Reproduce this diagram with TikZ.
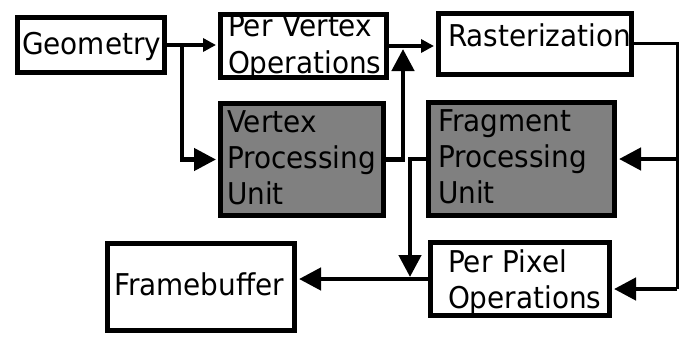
\documentclass[tikz,border=0pt]{standalone}
\usepackage{fontspec}
\setmainfont{DejaVu Sans}[FakeStretch=0.93]
\usetikzlibrary{arrows.meta}
\newcommand{\boxfont}{\fontsize{30}{36}\selectfont\hyphenpenalty10000\relax}
\begin{document}
\begin{tikzpicture}[
  x=1pt, y=-1pt,
  box/.style={draw, line width=5pt, inner sep=0pt, align=left, font=\boxfont, text height=22pt},
  unit/.style={box, fill=gray},
  link/.style={line width=4.5pt, shorten >=2pt},
  feed/.style={line width=3pt},
  small/.style={-{Triangle[length=13pt,width=13pt]}},
  big/.style={-{Triangle[length=22pt,width=22pt]}}
]
\useasboundingbox (0,0) rectangle (679,337);

\node[box, minimum width=147pt, minimum height=55pt, text width=138pt, text depth=3pt] (geo) at (91,45) {Geometry};
\node[box, minimum width=166pt, minimum height=63pt, text width=151pt, text depth=40pt] (pvo) at (303.5,46) {Per Vertex\\Operations};
\node[box, minimum width=193pt, minimum height=61pt, text width=174pt, text depth=16pt] (ras) at (535,44) {Rasterization};
\node[unit, minimum width=163pt, minimum height=112pt, text width=150pt, text depth=77pt] (vpu) at (302,159.5) {Vertex\\Processing\\Unit};
\node[unit, minimum width=186pt, minimum height=113pt, text width=167pt, text depth=78pt] (fpu) at (521.5,159) {Fragment\\Processing\\Unit};
\node[box, minimum width=187pt, minimum height=87pt, text width=174pt, text depth=6pt] (fb) at (201,287) {Framebuffer};
\node[box, minimum width=179pt, minimum height=73pt, text width=144pt, text depth=35pt] (ppo) at (520,279) {Per Pixel\\Operations};

\coordinate (split) at (182,45);
\coordinate (join) at (403,47);
\coordinate (drop) at (410,279);
\coordinate (feedtop) at (677,44);
\coordinate (feedbot) at (677,289);

\draw[link, small] (geo.east) -- (geo.east -| pvo.west);
\draw[link, big] (split) |- (vpu.west);
\draw[link, big] (vpu.east) -| (join);
\draw[link, small] (pvo.east) -- (pvo.east -| ras.west);

\draw[feed] (ras.east) -- (feedtop) -- (feedbot);
\draw[link, big] (fpu.east -| feedbot) -- (fpu.east);
\draw[link, big] (feedbot) -- (feedbot -| ppo.east);

\draw[link, big] (fpu.west) -| (drop);
\draw[link, big] (ppo.west) -- (fb.east |- ppo.west);
\end{tikzpicture}
\end{document}
